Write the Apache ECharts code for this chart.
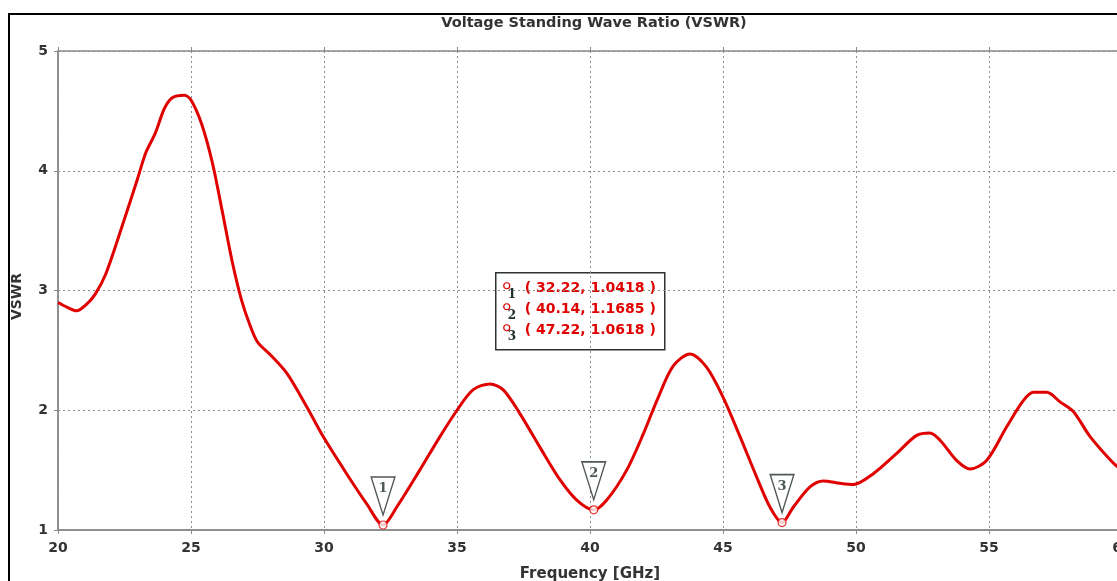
<!DOCTYPE html>
<html>
<head>
<meta charset="utf-8">
<script src="https://cdn.jsdelivr.net/npm/echarts@6/dist/echarts.min.js"></script>
<style>
  html, body { margin: 0; padding: 0; background: #ffffff; }
  #chart { width: 1117px; height: 581px; }
</style>
</head>
<body>
<div id="chart"></div>
<script>
// Swept VSWR of the antenna, 20–60 GHz
const freqGHz = [
  20.0, 20.35, 20.7, 21.05, 21.4, 21.8, 22.4, 23.0, 23.3, 23.65,
  24.0, 24.3, 24.75, 25.0, 25.4, 25.8, 26.15, 26.55, 26.9, 27.2,
  27.5, 28.0, 28.6, 29.35, 29.97, 30.85, 31.6, 32.22, 32.73, 33.6,
  34.36, 35.0, 35.6, 36.24, 36.74, 37.37, 38.12, 38.87, 39.5, 40.14,
  40.63, 41.38, 42.0, 42.55, 43.13, 43.76, 44.38, 45.0, 45.64, 46.27,
  46.77, 47.22, 47.64, 48.27, 48.77, 49.4, 49.9, 50.65, 51.53, 52.28,
  52.78, 53.16, 53.79, 54.29, 54.91, 55.66, 56.29, 56.67, 57.17, 57.67,
  58.17, 58.8, 59.67, 60.0
];
const vswr = [
  2.90, 2.86, 2.83, 2.88, 2.97, 3.14, 3.53, 3.94, 4.15, 4.31,
  4.52, 4.61, 4.63, 4.59, 4.39, 4.07, 3.69, 3.24, 2.92, 2.72,
  2.57, 2.46, 2.31, 2.03, 1.78, 1.47, 1.22, 1.0418, 1.19, 1.50,
  1.78, 2.00, 2.17, 2.22, 2.17, 1.97, 1.69, 1.42, 1.25, 1.1685,
  1.25, 1.50, 1.80, 2.10, 2.37, 2.47, 2.36, 2.11, 1.78, 1.44,
  1.19, 1.0618, 1.19, 1.36, 1.41, 1.39, 1.38, 1.47, 1.64, 1.79,
  1.81, 1.75, 1.58, 1.51, 1.58, 1.86, 2.08, 2.15, 2.15, 2.07,
  1.99, 1.78, 1.56, 1.50
];

// Marker readouts
const markerIds = ['1', '2', '3'];
const markerFreq = [32.22, 40.14, 47.22];
const markerVswr = [1.0418, 1.1685, 1.0618];

// Axis ticks
const xTicks = { min: 20, max: 60, step: 5 };
const yTicks = { min: 1, max: 5, step: 1 };

const RED = '#e00000';
const INK = '#333333';
const AXIS = '#8a8a8a';
const FONT = 'DejaVu Sans';

const curve = freqGHz.map((f, i) => [f, vswr[i]]);
const markerPts = markerFreq.map((f, i) => [f, markerVswr[i], markerIds[i]]);

// Readout box contents
const boxLeft = 495, boxTop = 272, rowH = 21;
const readoutEls = [];
markerIds.forEach((id, i) => {
  const cy = 288 - boxTop + i * rowH;
  readoutEls.push({
    type: 'circle', shape: { cx: 11, cy: cy - 3, r: 3 },
    style: { fill: '#fff', stroke: RED, lineWidth: 1.2 }
  });
  readoutEls.push({
    type: 'text', x: 12, y: cy + 6,
    style: { text: id, fill: '#1e2b2b', font: 'bold 12px "DejaVu Serif"', align: 'left', verticalAlign: 'middle' }
  });
  readoutEls.push({
    type: 'text', x: 29, y: cy,
    style: {
      text: '( ' + markerFreq[i].toFixed(2) + ', ' + markerVswr[i].toFixed(4) + ' )',
      fill: RED, font: 'bold 14px ' + FONT, align: 'left', verticalAlign: 'middle'
    }
  });
});

const chart = echarts.init(document.getElementById('chart'), null, { renderer: 'canvas' });

chart.setOption({
  backgroundColor: '#ffffff',
  animation: false,
  title: {
    text: 'Voltage Standing Wave Ratio (VSWR)',
    left: 589, top: 11, textAlign: 'center',
    textStyle: { fontFamily: FONT, fontWeight: 'bold', fontSize: 14.5, color: INK }
  },
  grid: {
    left: 58, right: -5, top: 51, bottom: 51,
    outerBoundsMode: 'none', containLabel: false,
    show: true, borderColor: AXIS, borderWidth: 1.5, backgroundColor: '#ffffff'
  },
  xAxis: [{
    type: 'value', min: xTicks.min, max: xTicks.max, interval: xTicks.step,
    name: 'Frequency [GHz]', nameLocation: 'middle', nameGap: 37,
    nameTextStyle: { fontFamily: FONT, fontWeight: 'bold', fontSize: 15, color: INK },
    axisLine: { show: true, onZero: false, lineStyle: { color: AXIS, width: 1.5 } },
    axisTick: { show: true, length: 4, lineStyle: { color: AXIS } },
    axisLabel: { margin: 11, fontFamily: FONT, fontWeight: 'bold', fontSize: 14, color: INK },
    splitLine: { show: true, lineStyle: { color: '#8c8c8c', width: 1, type: [2, 3] } }
  }, {
    type: 'value', position: 'top', min: xTicks.min, max: xTicks.max, interval: xTicks.step,
    axisLine: { show: false },
    axisTick: { show: true, length: 4, lineStyle: { color: AXIS } },
    axisLabel: { show: false },
    splitLine: { show: false }
  }],
  yAxis: {
    type: 'value', min: yTicks.min, max: yTicks.max, interval: yTicks.step,
    name: 'VSWR', nameLocation: 'middle', nameGap: 34, nameRotate: 90,
    nameTextStyle: { fontFamily: FONT, fontWeight: 'bold', fontSize: 14, color: INK, padding: [0, 12, 0, 0] },
    axisLine: { show: true, onZero: false, lineStyle: { color: AXIS, width: 1.5 } },
    axisTick: { show: true, length: 4, lineStyle: { color: AXIS } },
    axisLabel: { margin: 10, fontFamily: FONT, fontWeight: 'bold', fontSize: 14, color: INK },
    splitLine: { show: true, lineStyle: { color: '#8c8c8c', width: 1, type: [2, 3] } }
  },
  series: [
    {
      name: 'VSWR', type: 'line', data: curve,
      smooth: 0.3, showSymbol: false, z: 3,
      lineStyle: { color: RED, width: 3 }
    },
    {
      name: 'marker point', type: 'scatter', data: markerPts, z: 4,
      symbol: 'circle', symbolSize: 8,
      itemStyle: { color: '#ffffff', borderColor: RED, borderWidth: 1.2 }
    },
    {
      name: 'marker flag', type: 'scatter', data: markerPts, z: 5,
      symbol: 'path://M0,0L30,0L15,38Z', symbolSize: [30, 38], symbolKeepAspect: true,
      symbolOffset: [0, -29],
      itemStyle: { color: '#ffffff', borderColor: '#26302e', borderWidth: 1.5 },
      label: {
        show: true, position: 'inside', offset: [0, -7],
        formatter: p => p.value[2],
        fontFamily: 'DejaVu Serif', fontWeight: 'bold', fontSize: 13, color: '#1e2b2b'
      }
    }
  ],
  graphic: [
    {
      type: 'rect', left: 8, top: 13, z: -10, silent: true,
      shape: { width: 1300, height: 800 },
      style: { fill: 'transparent', stroke: '#000000', lineWidth: 2 }
    },
    {
      type: 'group', left: boxLeft, top: boxTop, z: 100,
      children: [
        {
          type: 'rect', shape: { x: 0, y: 0, width: 169, height: 77 },
          style: { fill: '#ffffff', stroke: '#2d3333', lineWidth: 1.5 }
        }
      ].concat(readoutEls)
    }
  ]
});
</script>
</body>
</html>
